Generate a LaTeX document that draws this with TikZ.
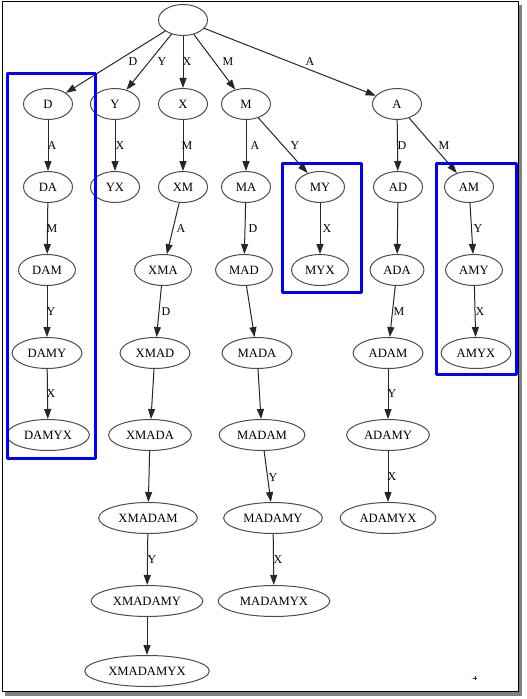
\documentclass[tikz,border=0pt]{standalone}
\usepackage{fontspec}
\setmainfont{Liberation Serif}
\usetikzlibrary{shapes.geometric}
\usetikzlibrary{arrows.meta}
\tikzset{
  state/.style={draw=black!70,line width=0.75pt,ellipse,minimum width=36.75pt,minimum height=23.25pt,inner xsep=4pt,inner ysep=1pt,font=\fontsize{9.5}{11}\selectfont},
  edgelabel/.style={inner sep=0pt,font=\fontsize{9}{10}\selectfont},
  trie/.style={->,line width=0.75pt,color=black!85},
  wordbox/.style={draw=blue,line width=2.25pt}
}
\begin{document}
\begin{tikzpicture}[line cap=round,line join=round,>={Triangle[length=7.5pt,width=5.25pt]},x=0.75pt,y=-0.75pt]
\useasboundingbox (0,0) rectangle (526,699);
\fill[black!50] (5,5) rectangle (522,696);
\draw[line width=0.75pt,fill=white] (2,2) rectangle (518,691);
\node[state] (root) at (183,20) {};
\node[state] (D) at (48,104) {D};
\node[state] (Y) at (115,104) {Y};
\node[state] (X) at (183,104) {X};
\node[state] (M) at (246,104) {M};
\node[state] (A) at (397,104) {A};
\node[state] (DA) at (48,187) {DA};
\node[state] (YX) at (115,187) {YX};
\node[state] (XM) at (183,187) {XM};
\node[state] (MA) at (246,187) {MA};
\node[state] (MY) at (320,187) {MY};
\node[state] (AD) at (398,187) {AD};
\node[state] (AM) at (469,187) {AM};
\node[state] (DAM) at (47,270) {DAM};
\node[state] (XMA) at (163,270) {XMA};
\node[state] (MAD) at (244,270) {MAD};
\node[state] (MYX) at (320,270) {MYX};
\node[state] (ADA) at (397,270) {ADA};
\node[state] (AMY) at (474,270) {AMY};
\node[state] (DAMY) at (47,353) {DAMY};
\node[state] (XMAD) at (155,353) {XMAD};
\node[state] (MADA) at (257,353) {MADA};
\node[state] (ADAM) at (388,353) {ADAM};
\node[state] (AMYX) at (476,353) {AMYX};
\node[state] (DAMYX) at (48,435) {DAMYX};
\node[state] (XMADA) at (150,435) {XMADA};
\node[state] (MADAM) at (262,435) {MADAM};
\node[state] (ADAMY) at (388,435) {ADAMY};
\node[state] (XMADAM) at (148,518) {XMADAM};
\node[state] (MADAMY) at (273,518) {MADAMY};
\node[state] (ADAMYX) at (388,518) {ADAMYX};
\node[state] (XMADAMY) at (147,601) {XMADAMY};
\node[state] (MADAMYX) at (274,601) {MADAMYX};
\node[state] (XMADAMYX) at (147,671) {XMADAMYX};
\draw [trie] (root) -- (D);
\draw [trie] (root) -- (Y);
\draw [trie] (root) -- (X);
\draw [trie] (root) -- (M);
\draw [trie] (root) -- (A);
\draw [trie] (D) -- (DA);
\draw [trie] (DA) -- (DAM);
\draw [trie] (DAM) -- (DAMY);
\draw [trie] (DAMY) -- (DAMYX);
\draw [trie] (Y) -- (YX);
\draw [trie] (X) -- (XM);
\draw [trie] (XM) -- (XMA);
\draw [trie] (XMA) -- (XMAD);
\draw [trie] (XMAD) -- (XMADA);
\draw [trie] (XMADA) -- (XMADAM);
\draw [trie] (XMADAM) -- (XMADAMY);
\draw [trie] (XMADAMY) -- (XMADAMYX);
\draw [trie] (M) -- (MA);
\draw [trie] (MA) -- (MAD);
\draw [trie] (MAD) -- (MADA);
\draw [trie] (MADA) -- (MADAM);
\draw [trie] (MADAM) -- (MADAMY);
\draw [trie] (MADAMY) -- (MADAMYX);
\draw [trie] (M) -- (MY);
\draw [trie] (MY) -- (MYX);
\draw [trie] (A) -- (AD);
\draw [trie] (AD) -- (ADA);
\draw [trie] (ADA) -- (ADAM);
\draw [trie] (ADAM) -- (ADAMY);
\draw [trie] (ADAMY) -- (ADAMYX);
\draw [trie] (A) -- (AM);
\draw [trie] (AM) -- (AMY);
\draw [trie] (AMY) -- (AMYX);
% edge labels
\node[edgelabel] (lD) at (133,62) {D};
\node[edgelabel] (lY) at (162,62) {Y};
\node[edgelabel] (lX) at (187,62) {X};
\node[edgelabel] (lM) at (228,62) {M};
\node[edgelabel] (lA) at (310,62) {A};
\node[edgelabel] (lDA) at (52,146) {A};
\node[edgelabel] (lYX) at (120,146) {X};
\node[edgelabel] (lXM) at (187,146) {M};
\node[edgelabel] (lMA) at (255,146) {A};
\node[edgelabel] (lMY) at (295,146) {Y};
\node[edgelabel] (lAD) at (402,146) {D};
\node[edgelabel] (lAM) at (444,146) {M};
\node[edgelabel] (lDAM) at (52,229) {M};
\node[edgelabel] (lXMA) at (181,229) {A};
\node[edgelabel] (lMAD) at (253,229) {D};
\node[edgelabel] (lMYX) at (327,229) {X};
\node[edgelabel] (lAMY) at (478,229) {Y};
\node[edgelabel] (lDAMY) at (51,312) {Y};
\node[edgelabel] (lXMAD) at (166,312) {D};
\node[edgelabel] (lADAM) at (399,312) {M};
\node[edgelabel] (lAMYX) at (480,312) {X};
\node[edgelabel] (lDAMYX) at (51,394) {X};
\node[edgelabel] (lADAMY) at (392,394) {Y};
\node[edgelabel] (lMADAMY) at (273,478) {Y};
\node[edgelabel] (lADAMYX) at (392,477) {X};
\node[edgelabel] (lXMADAMY) at (152,560) {Y};
\node[edgelabel] (lMADAMYX) at (278,560) {X};
% words
\draw [wordbox] (7.5,73.5) rectangle (95.5,458.5);
\draw [wordbox] (282.5,163.5) rectangle (361.5,292.5);
\draw [wordbox] (436.5,163.5) rectangle (516.5,374.5);
\draw [blue,line width=0.5pt] (473.5,678)--(476.5,678) (475,676.5)--(475,679.5);
\end{tikzpicture}
\end{document}
